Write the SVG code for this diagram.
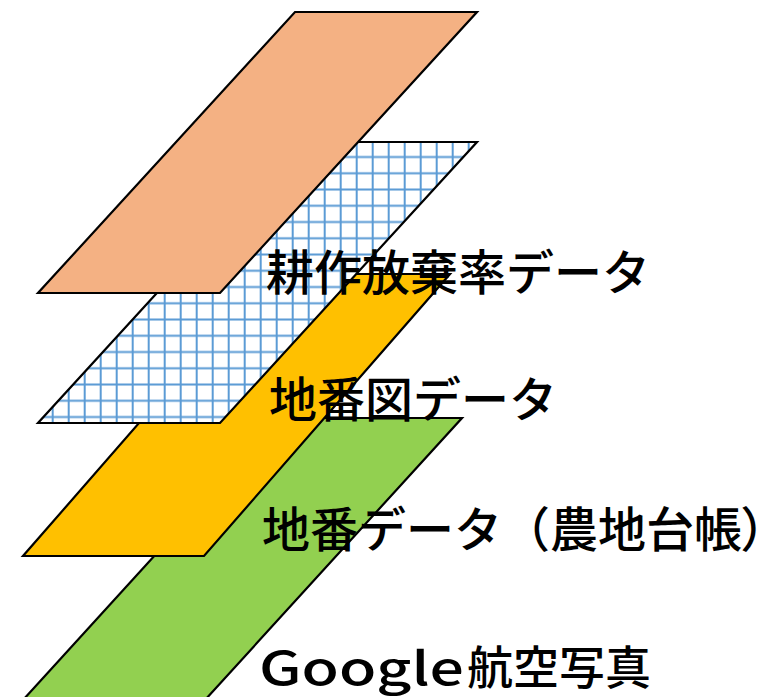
<svg xmlns="http://www.w3.org/2000/svg" width="774" height="697" viewBox="0 0 774 697">
<style>
.layer{stroke:#000;stroke-width:2.2;stroke-linejoin:miter}
.lbl{font-family:"Noto Sans CJK JP","Noto Sans",sans-serif;font-size:48px;font-weight:500;fill:#000}
.sm{font-size:46px}
.palt{font-feature-settings:"palt" 1}
</style>
<defs>
<pattern id="grid" patternUnits="userSpaceOnUse" x="-3.3" y="148.9" width="16" height="16.25">
<rect width="16" height="16.25" fill="#fff"/>
<line x1="8" y1="0" x2="8" y2="16.25" stroke="#5B9BD5" stroke-width="2"/>
<line x1="0" y1="8.125" x2="16" y2="8.125" stroke="#5B9BD5" stroke-width="2"/>
</pattern>
</defs>
<g id="google-photo"><polygon class="layer" points="280,418 462,418 205,700 23,700" fill="#92D050"/></g>
<g id="chiban-data"><polygon class="layer" points="269,274 450,274 204,556 23,556" fill="#FFC000"/></g>
<g id="chibanzu-data"><polygon class="layer" points="295,142 477,142 220,423 38,423" fill="url(#grid)"/></g>
<g id="kousaku-data"><polygon class="layer" points="295,12 477,12 220,293 38,293" fill="#F4B183"/></g>
<g id="connectors"></g>
<g id="labels">
<text class="lbl" x="266" y="290">耕作放棄率データ</text>
<text class="lbl" x="269" y="417">地番図データ</text>
<text class="lbl" x="262" y="547">地番データ（農地台帳<tspan class="palt">）</tspan></text>
<text class="lbl sm" x="259" y="685" textLength="205" lengthAdjust="spacingAndGlyphs">Google</text>
<text class="lbl sm" x="467" y="684">航空写真</text>
</g>
</svg>
